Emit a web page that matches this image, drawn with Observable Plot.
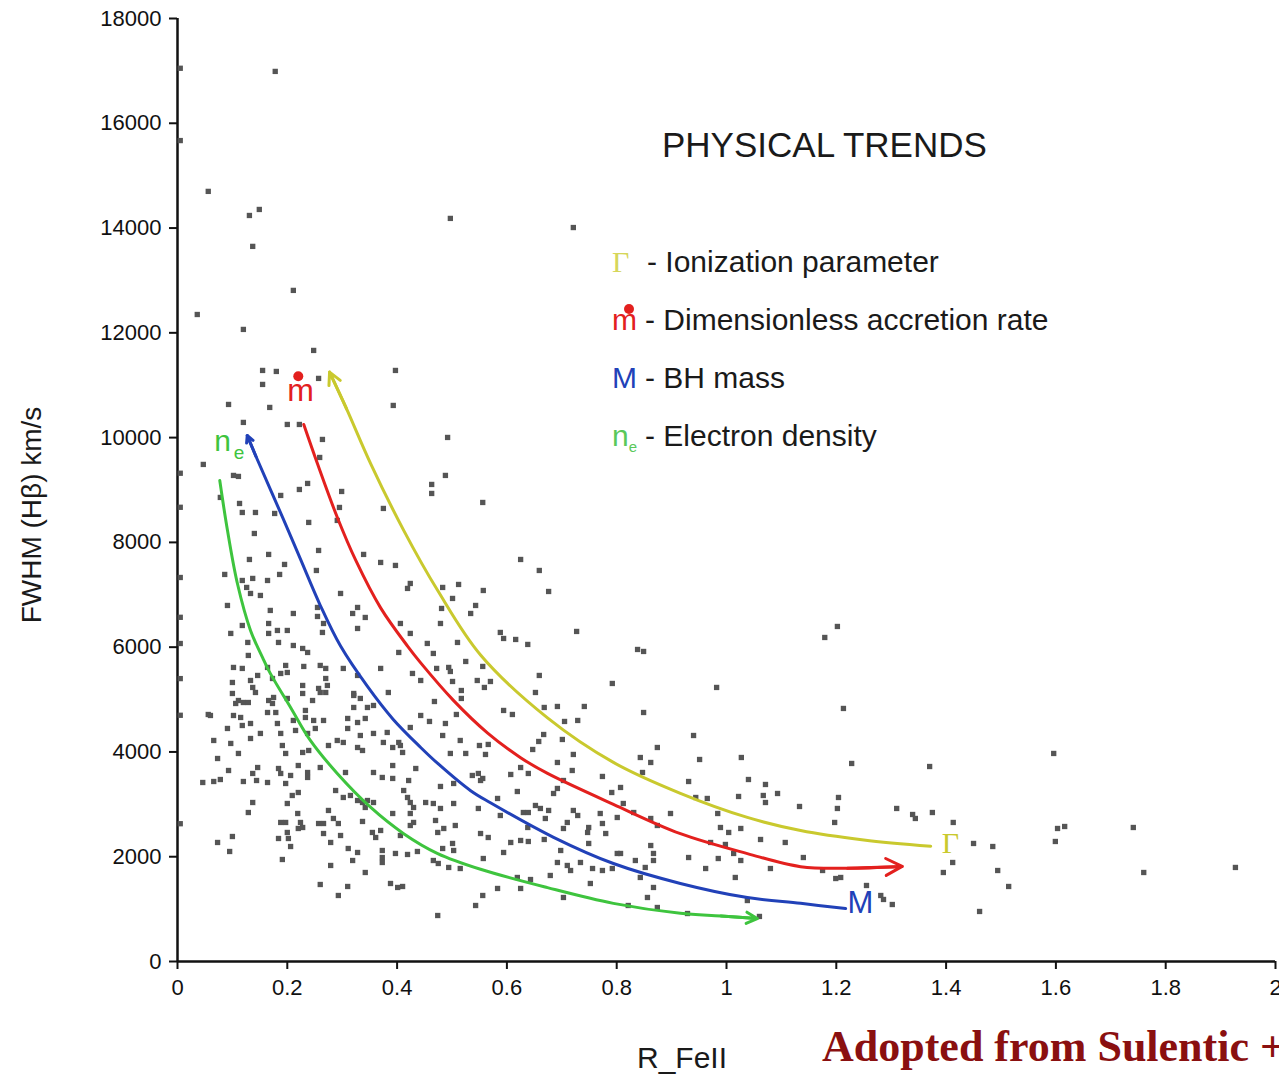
<!DOCTYPE html>
<html><head><meta charset="utf-8">
<script src="https://cdn.jsdelivr.net/npm/d3@7"></script>
<script src="https://cdn.jsdelivr.net/npm/@observablehq/plot@0.6"></script>
<style>
body{margin:0;background:#fff;overflow:hidden;}
#wrap{position:relative;width:1279px;height:1077px;overflow:hidden;font-family:"Liberation Sans",Arial,sans-serif;color:#1a1a1a;}
.abs{position:absolute;line-height:1;white-space:nowrap;}
</style></head><body><div id="wrap"></div>
<script>
// ---- data ----
const xTicks = [0,0.2,0.4,0.6,0.8,1,1.2,1.4,1.6,1.8,2];
const yTicks = [0,2000,4000,6000,8000,10000,12000,14000,16000,18000];

// scatter: [R_FeII, FWHM(Hbeta) km/s]
const scatter = [
[0.005,17050],[0.005,15670],[0.005,9320],[0.005,8670],[0.005,7330],[0.005,6570],[0.005,6070],[0.005,5400],[0.005,4700],[0.005,2630],
[0.178,16990],[0.056,14700],[0.131,14240],[0.149,14355],[0.137,13650],[0.497,14184],[0.211,12810],[0.036,12350],[0.120,12065],[0.721,14010],
[0.248,11664],[0.155,11282],[0.180,11263],[0.397,11282],[0.257,11130],[0.155,11015],[0.093,10633],[0.168,10576],[0.393,10614],[0.120,10290],[0.200,10251],[0.222,10251],[0.264,9965],[0.492,10003],[0.047,9488],[0.259,9621],[0.102,9278],[0.111,9259],[0.237,9125],[0.222,9010],[0.299,8972],[0.463,9106],[0.463,8934],[0.488,9278],[0.188,8896],[0.078,8858],[0.556,8762],[0.113,8743],[0.118,8571],[0.142,8571],[0.177,8552],[0.295,8667],[0.375,8648],[0.239,8381],[0.291,8419],[0.140,8170],[0.257,7846],[0.131,7674],[0.166,7770],[0.339,7770],[0.370,7617],[0.397,7560],[0.195,7579],[0.186,7388],[0.253,7464],[0.086,7388],[0.118,7273],[0.137,7312],[0.164,7273],[0.424,7216],[0.419,7121],[0.483,7140],[0.512,7197],[0.557,7082],[0.126,7140],[0.133,7025],[0.151,6987],[0.297,7025],[0.501,6930],[0.091,6796],[0.169,6701],[0.211,6643],[0.255,6758],[0.255,6586],[0.319,6643],[0.328,6758],[0.342,6567],[0.543,6796],[0.534,6643],[0.118,6414],[0.166,6452],[0.266,6452],[0.328,6357],[0.406,6452],[0.097,6262],[0.166,6262],[0.182,6319],[0.200,6319],[0.264,6281],[0.424,6262],[0.479,6452],[0.510,6090],[0.128,6090],[0.184,6090],[0.211,6032],[0.228,5975],[0.237,5899],[0.129,5842],[0.403,5899],[0.455,6071],[0.466,5880],
[0.625,7674],[0.659,7464],[0.676,7063],[0.588,6281],[0.594,6166],[0.616,6147],[0.638,6052],[0.727,6300],[0.838,5956],[0.849,5918],
[0.481,6739],[0.525,5727],[0.556,5632],[0.472,5594],[0.494,5613],[0.497,5536],[0.659,5460],[0.501,5345],[0.546,5364],[0.570,5345],[0.559,5231],[0.443,5364],[0.517,5173],[0.517,5021],[0.652,5135],[0.792,5307],[0.468,4963],[0.594,4792],[0.610,4715],[0.668,4849],[0.692,4868],[0.741,4868],[0.849,4753],[0.508,4715],[0.459,4582],[0.488,4543],[0.705,4582],[0.729,4601],[0.483,4314],[0.515,4219],[0.667,4333],[0.658,4200],[0.701,4238],[0.550,4123],[0.566,4143],[0.647,4047],[0.721,3952],[0.843,3894],[0.874,4085],[0.497,3971],[0.525,3971],[0.561,3952],[0.443,4696],
[0.452,3035],[0.466,3016],[0.479,2921],[0.503,3016],[0.470,2692],[0.474,2463],[0.485,2539],[0.506,2596],[0.479,3341],[0.503,3398],[0.537,3551],[0.548,3589],[0.556,3494],[0.552,3455],[0.607,3570],[0.619,3245],[0.639,3589],[0.625,3703],[0.692,3799],[0.719,3646],[0.774,3532],[0.791,3226],[0.807,3322],[0.847,3608],[0.862,3799],[0.685,3207],[0.692,3303],[0.703,3455],[0.583,3112],[0.548,2921],[0.588,2787],[0.630,2844],[0.639,2844],[0.652,2978],[0.661,2921],[0.676,2883],[0.670,2730],[0.721,2883],[0.729,2787],[0.770,2825],[0.812,3016],[0.801,2749],[0.831,2844],[0.862,2730],[0.874,2596],[0.710,2654],[0.703,2539],[0.749,2558],[0.747,2463],[0.774,2634],[0.780,2443],[0.638,2558],[0.552,2443],[0.566,2367],[0.625,2310],[0.639,2291],[0.607,2272],[0.668,2329],[0.594,2081],[0.698,2119],[0.749,2253],[0.801,2062],[0.807,2062],[0.862,2214],[0.867,2062],[0.503,2119],[0.501,2253],[0.483,2157],[0.466,1928],[0.475,1871],[0.494,1795],[0.515,1775],[0.557,1966],[0.692,1890],[0.710,1833],[0.716,1737],[0.734,1890],[0.756,1775],[0.774,1737],[0.792,1775],[0.834,1928],[0.852,1795],[0.867,1928],[0.679,1642],[0.619,1604],[0.643,1565],[0.625,1394],[0.583,1394],[0.752,1489],[0.843,1604],[0.867,1413],[0.856,1222],[0.703,1222],[0.556,1260],[0.543,1069],[0.821,1069],[0.474,878],
[0.982,5231],[0.940,4314],[0.951,3856],[1.027,3894],[0.931,3436],[1.040,3474],[1.071,3379],[1.093,3207],[1.067,3169],[1.071,3035],[1.022,3150],[0.944,3131],[0.965,3112],[0.984,2825],[1.133,2959],[0.898,2825],[0.989,2558],[1.004,2463],[1.026,2539],[1.062,2329],[1.107,2272],[0.971,2272],[0.998,2234],[1.013,2062],[1.026,1928],[0.985,1966],[0.931,1985],[0.962,1775],[1.016,1604],[1.080,1775],[1.038,1164],[1.060,860],[0.929,916],[0.874,1031],
[1.202,6395],[1.179,6185],[1.213,4830],[1.228,3780],[1.370,3722],[1.596,3971],[1.204,3131],[1.202,2921],[1.310,2921],[1.339,2806],[1.344,2730],[1.375,2844],[1.197,2654],[1.413,2654],[1.603,2539],[1.616,2577],[1.741,2558],[1.599,2291],[1.450,2253],[1.485,2195],[1.412,1890],[1.395,1699],[1.494,1737],[1.760,1699],[1.927,1795],[1.140,1985],[1.175,1737],[1.199,1584],[1.208,1604],[1.514,1432],[1.255,1451],[1.281,1260],[1.286,1184],[1.302,1088],[1.461,955],
[0.102,5613],[0.118,5594],[0.164,5613],[0.197,5651],[0.188,5498],[0.200,5517],[0.230,5632],[0.260,5651],[0.270,5594],[0.302,5594],[0.100,5326],[0.133,5364],[0.146,5460],[0.173,5402],[0.270,5402],[0.273,5269],[0.328,5460],[0.370,5594],[0.428,5498],[0.100,5116],[0.137,5231],[0.142,5135],[0.228,5269],[0.257,5212],[0.260,5135],[0.270,5135],[0.321,5116],[0.384,5135],[0.111,4982],[0.120,4944],[0.129,4944],[0.166,4982],[0.175,5040],[0.200,5021],[0.228,5116],[0.246,4982],[0.321,5078],[0.333,5021],[0.346,4849],[0.357,4887],[0.321,4849],[0.106,4925],[0.102,4696],[0.133,4543],[0.151,4353],[0.091,4448],[0.060,4696],[0.115,4658],[0.118,4505],[0.173,4925],[0.179,4753],[0.164,4753],[0.182,4543],[0.188,4353],[0.211,4601],[0.233,4792],[0.233,4658],[0.248,4601],[0.266,4601],[0.215,4410],[0.237,4353],[0.251,4448],[0.310,4639],[0.328,4562],[0.342,4639],[0.310,4448],[0.333,4314],[0.357,4353],[0.382,4372],[0.403,4181],[0.424,4467],[0.066,4219],[0.097,4162],[0.111,3971],[0.133,4257],[0.191,4123],[0.197,3971],[0.228,3990],[0.239,4028],[0.275,4123],[0.291,4219],[0.302,4181],[0.328,4085],[0.337,4028],[0.375,4181],[0.392,4085],[0.406,4123],[0.410,3990],
[0.056,4715],[0.073,3875],
[0.093,3646],[0.146,3703],[0.137,3589],[0.046,3417],[0.066,3436],[0.078,3474],[0.120,3436],[0.144,3455],[0.164,3417],[0.188,3589],[0.184,3684],[0.206,3551],[0.197,3398],[0.220,3741],[0.237,3608],[0.237,3513],[0.260,3703],[0.288,3264],[0.220,3226],[0.209,3169],[0.200,3016],[0.137,3035],[0.129,2844],[0.219,2825],[0.224,2654],[0.228,2558],[0.220,2539],[0.188,2654],[0.197,2654],[0.184,2348],[0.200,2463],[0.202,2348],[0.206,2195],[0.191,1947],[0.073,2272],[0.100,2386],[0.095,2100],[0.302,3131],[0.315,3169],[0.328,3073],[0.337,3035],[0.346,3073],[0.342,2940],[0.357,3035],[0.275,2883],[0.284,2730],[0.293,2634],[0.257,2634],[0.266,2634],[0.266,2443],[0.297,2405],[0.279,2272],[0.337,2673],[0.355,2463],[0.361,2367],[0.370,2501],[0.311,2157],[0.328,2081],[0.319,1928],[0.373,2119],[0.373,1985],[0.373,1890],[0.397,2062],[0.419,2043],[0.437,2100],[0.342,1699],[0.279,1833],[0.260,1470],[0.310,1432],[0.293,1260],[0.388,1489],[0.401,1413],[0.410,1432],[0.357,3608],[0.373,3513],[0.392,3494],[0.392,3741],[0.421,3455],[0.434,3684],[0.306,3608],[0.412,3264],[0.419,3131],[0.424,3035],[0.430,2940],[0.424,2825],[0.430,2654],[0.392,2825],[0.406,2405],[0.424,2596]
];

// trend curves (arrow ends noted)
const gammaCurve = [[0.277,11250],[0.308,10550],[0.352,9500],[0.412,8230],[0.474,7080],[0.552,5850],[0.674,4650],[0.794,3800],[0.916,3210],[1.038,2750],[1.135,2500],[1.25,2320],[1.372,2200]];
const mdotCurve = [[0.230,10250],[0.255,9500],[0.291,8480],[0.325,7650],[0.370,6750],[0.419,6020],[0.443,5700],[0.503,4980],[0.565,4360],[0.625,3890],[0.674,3590],[0.794,3000],[0.916,2440],[1.038,2060],[1.135,1810],[1.22,1780],[1.32,1815]];
const massCurve = [[0.127,10040],[0.143,9640],[0.193,8440],[0.224,7680],[0.260,6800],[0.297,6020],[0.346,5250],[0.393,4620],[0.443,4085],[0.474,3780],[0.534,3260],[0.570,3030],[0.685,2370],[0.794,1870],[0.916,1490],[1.038,1220],[1.135,1110],[1.217,1010]];
const densityCurve = [[0.077,9180],[0.091,8230],[0.109,7220],[0.133,6320],[0.155,5800],[0.169,5500],[0.206,4850],[0.242,4220],[0.291,3590],[0.352,2940],[0.412,2440],[0.474,2060],[0.552,1760],[0.674,1410],[0.794,1110],[0.916,920],[0.99,870],[1.056,820]];

const colors = {gamma:"#c9c92e", mdot:"#e3201e", mass:"#2141b8", density:"#3ec43e"};

// labels near curve ends
const curveLabels = [
  {text:"m", x:0.224, y:10900, color:colors.mdot, size:32},
  {text:"M", x:1.244, y:1107, color:colors.mass, size:31},
  {text:"n", x:0.082, y:9930, color:colors.density, size:30},
  {text:"e", x:0.112, y:9700, color:colors.density, size:19}
];
const gammaLabel = [{text:"Γ", x:1.408, y:2253}];
const mdotDot = [{x:0.220, y:11170}];

const legendItems = ["- Ionization parameter","- Dimensionless accretion rate","- BH mass","- Electron density"];
const titleText = "PHYSICAL TRENDS";
const xLabel = "R_FeII";
const yLabel = "FWHM (Hβ) km/s";
const credit = "Adopted from Sulentic +";

// ---- chart ----
const pts = scatter.map(([x,y]) => ({x,y}));
const toObj = a => a.map(([x,y]) => ({x,y}));
const lineOpts = (c) => ({x:"x", y:"y", stroke:c, strokeWidth:3, curve:"catmull-rom"});
const arrowAt = (arr, fromIdx, toIdx, c) => Plot.arrow([{x1:arr[fromIdx][0], y1:arr[fromIdx][1], x2:arr[toIdx][0], y2:arr[toIdx][1]}],
  {x1:"x1", y1:"y1", x2:"x2", y2:"y2", stroke:c, strokeWidth:3, headLength:17, headAngle:55});

const chart = Plot.plot({
  width:1279, height:1077,
  marginLeft:177, marginRight:4, marginTop:18, marginBottom:116,
  x:{domain:[0,2]},
  y:{domain:[0,18000]},
  color:{type:"identity"},
  style:{fontFamily:"'Liberation Sans', Arial, sans-serif", fontSize:"22px", color:"#111", background:"white"},
  marks:[
    Plot.axisY({ticks:yTicks, tickSize:8, tickPadding:8, label:null, fontSize:22, tickFormat:d=>String(d), strokeWidth:2}),
    Plot.axisX({ticks:xTicks, tickSize:8, tickPadding:10, label:null, fontSize:22, tickFormat:d=>d3.format("~g")(d), strokeWidth:2}),
    Plot.ruleX([0], {stroke:"#111", strokeWidth:2.5}),
    Plot.ruleY([0], {stroke:"#111", strokeWidth:2.5}),
    Plot.dot(pts, {x:"x", y:"y", symbol:"square", r:3, fill:"#555", stroke:"none"}),
    Plot.line(toObj(gammaCurve), lineOpts(colors.gamma)),
    Plot.line(toObj(mdotCurve), lineOpts(colors.mdot)),
    Plot.line(toObj(massCurve), lineOpts(colors.mass)),
    Plot.line(toObj(densityCurve), lineOpts(colors.density)),
    arrowAt(gammaCurve, 1, 0, colors.gamma),
    arrowAt(massCurve, 1, 0, colors.mass),
    arrowAt(mdotCurve, mdotCurve.length-2, mdotCurve.length-1, colors.mdot),
    arrowAt(densityCurve, densityCurve.length-2, densityCurve.length-1, colors.density),
    Plot.text(curveLabels, {x:"x", y:"y", text:"text", fill:"color", fontSize:"size"}),
    Plot.dot(mdotDot, {x:"x", y:"y", r:5, fill:colors.mdot}),
    Plot.text(gammaLabel, {x:"x", y:"y", text:"text", fill:colors.gamma, fontSize:30, fontFamily:"'Liberation Serif', serif"})
  ]
});

const wrap = document.getElementById("wrap");
wrap.appendChild(chart);

function addDiv(html, css){
  const d = document.createElement("div");
  d.className = "abs";
  d.innerHTML = html;
  Object.assign(d.style, css);
  wrap.appendChild(d);
  return d;
}
addDiv(titleText, {left:"662px", top:"127px", fontSize:"35px"});
const legendTops = [247, 305, 363, 421];
const syms = [
  `<span style="font-family:'Liberation Serif',serif;color:#d6d65a">Γ</span>`,
  `<span style="color:${colors.mdot};position:relative">m<span style="position:absolute;left:12px;top:1px;width:10px;height:10px;border-radius:50%;background:${colors.mdot}"></span></span>`,
  `<span style="color:${colors.mass}">M</span>`,
  `<span style="color:#5ac85a">n<sub style="font-size:15px;vertical-align:-6px">e</sub></span>`
];
legendItems.forEach((t,i)=>{
  addDiv(syms[i], {left:"612px", top:legendTops[i]+"px", fontSize:"30px"});
  addDiv(t, {left:(i===0?"647px":"645px"), top:legendTops[i]+"px", fontSize:"30px"});
});
addDiv(xLabel, {left:"682px", top:"1043px", fontSize:"30px", transform:"translateX(-50%)"});
addDiv(yLabel, {left:"32px", top:"515px", fontSize:"28px", transform:"translate(-50%,-50%) rotate(-90deg)"});
addDiv(credit, {left:"822px", top:"1025px", fontSize:"44px", fontWeight:"bold", fontFamily:"'Liberation Serif','Times New Roman',serif", color:"#8a1010"});
</script></body></html>
